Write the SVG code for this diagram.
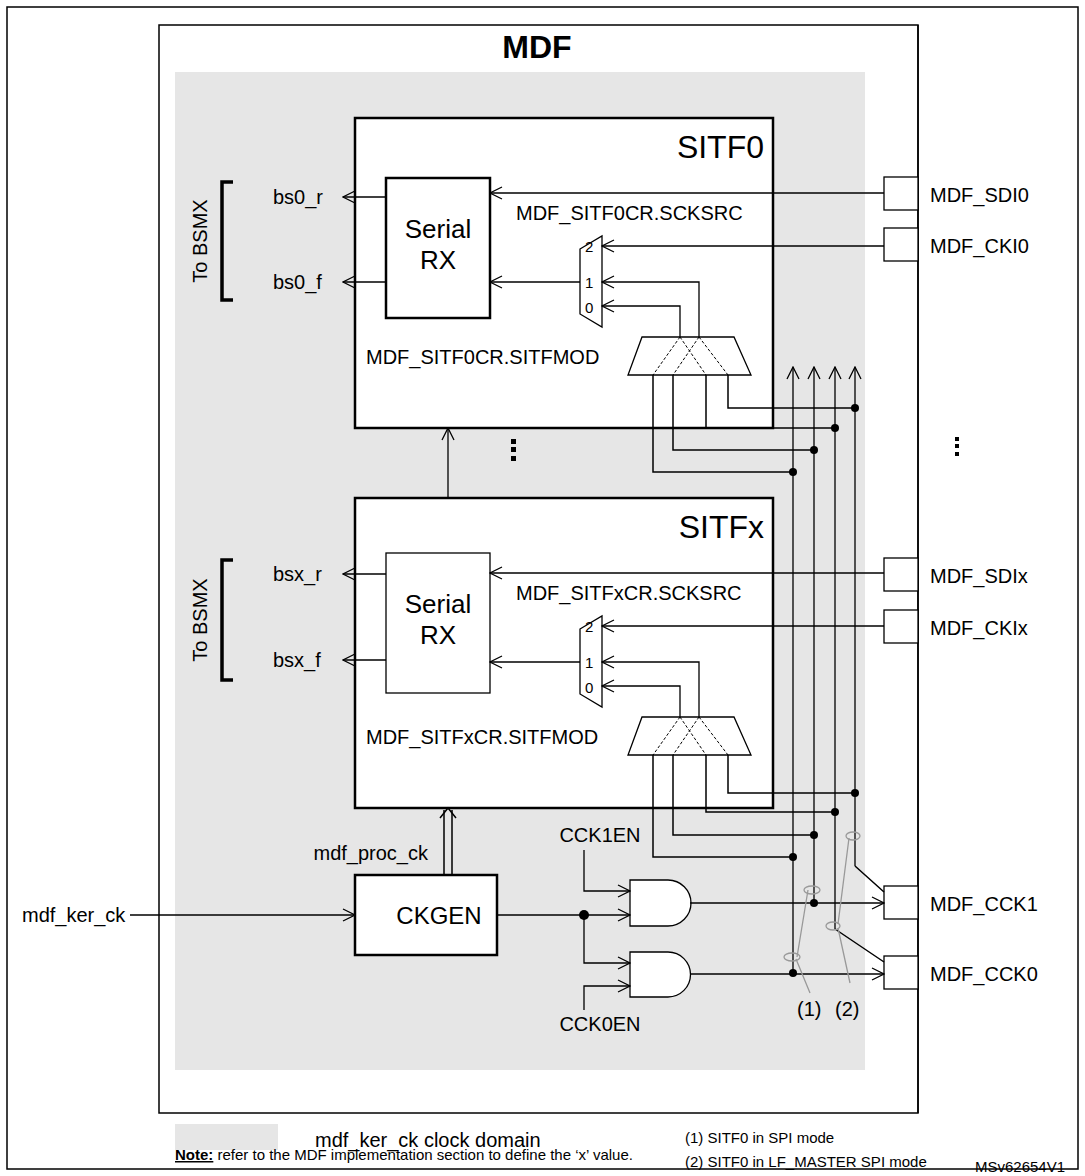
<svg xmlns="http://www.w3.org/2000/svg" width="1085" height="1176" viewBox="0 0 1085 1176">
<defs>
<marker id="a" markerWidth="14" markerHeight="14" refX="13" refY="7" orient="auto" markerUnits="userSpaceOnUse"><path d="M1,1 L13,7 L1,13" fill="none" stroke="#000" stroke-width="1.3"/></marker>
<style>
text{font-family:"Liberation Sans",Arial,sans-serif;fill:#000}
.l{font-size:20px}.s{font-size:15px}.t{font-size:32px}.f{font-size:15px}
.w{fill:none;stroke:#000;stroke-width:1.5}
.b{fill:#fff;stroke:#000;stroke-width:2.5}
.p{fill:#fff;stroke:#000;stroke-width:1.3}
.ar{fill:none;stroke:#000;stroke-width:1.3;marker-end:url(#a)}
.d{fill:none;stroke:#000;stroke-width:1;stroke-dasharray:3,2}
.g{fill:none;stroke:#999;stroke-width:1.3}
</style>
</defs>
<rect x="7" y="7" width="1071" height="1162" fill="#fff" stroke="#000" stroke-width="1.5"/>
<g id="mdf">
<rect x="159" y="25" width="759" height="1088" fill="#fff" stroke="#000" stroke-width="1.5"/>
<rect x="175" y="72" width="690" height="998" fill="#e6e6e6"/>
<text x="537" y="58" font-size="32" font-weight="bold" text-anchor="middle">MDF</text>
</g>
<g id="sitf0">
<rect x="355" y="118" width="418" height="310" class="b"/>
<text x="764" y="158" class="t" text-anchor="end">SITF0</text>
<rect x="386" y="178" width="104" height="140" class="b"/>
<text x="438" y="238" font-size="26" text-anchor="middle">Serial</text>
<text x="438" y="269" font-size="26" text-anchor="middle">RX</text>
<text x="516" y="220" class="l">MDF_SITF0CR.SCKSRC</text>
<path d="M580,249 L602,236 L602,327 L580,314 Z" class="p"/>
<text x="585" y="252" class="s">2</text><text x="585" y="288" class="s">1</text><text x="585" y="313" class="s">0</text>
<text x="366" y="364" class="l">MDF_SITF0CR.SITFMOD</text>
<path d="M642,337 L734,337 L751,375 L628,375 Z" class="p"/>
<path d="M680,337 L653,375 M699,337 L673,375 M680,337 L706,375 M699,337 L728,375" class="d"/>
</g>
<g id="sitfx">
<rect x="355" y="498" width="418" height="310" class="b"/>
<text x="764" y="538" class="t" text-anchor="end">SITFx</text>
<rect x="386" y="553" width="104" height="140" class="p"/>
<text x="438" y="613" font-size="26" text-anchor="middle">Serial</text>
<text x="438" y="644" font-size="26" text-anchor="middle">RX</text>
<text x="516" y="600" class="l">MDF_SITFxCR.SCKSRC</text>
<path d="M580,629 L602,616 L602,707 L580,694 Z" class="p"/>
<text x="585" y="632" class="s">2</text><text x="585" y="668" class="s">1</text><text x="585" y="693" class="s">0</text>
<text x="366" y="744" class="l">MDF_SITFxCR.SITFMOD</text>
<path d="M642,717 L734,717 L751,755 L628,755 Z" class="p"/>
<path d="M680,717 L653,755 M699,717 L673,755 M680,717 L706,755 M699,717 L728,755" class="d"/>
</g>
<g id="ckgen">
<rect x="355" y="875" width="142" height="80" class="b"/>
<text x="439" y="924" font-size="24" text-anchor="middle">CKGEN</text>
<text x="428" y="860" class="l" text-anchor="end">mdf_proc_ck</text>
</g>
<g id="gates">
<path d="M630,880 L668,880 A23,23 0 0 1 668,926 L630,926 Z" class="p"/>
<path d="M630,952 L668,952 A22.5,22.5 0 0 1 668,997 L630,997 Z" class="p"/>
<text x="600" y="842" class="l" text-anchor="middle">CCK1EN</text>
<text x="600" y="1031" class="l" text-anchor="middle">CCK0EN</text>
</g>
<g id="pins">
<line x1="918" y1="25" x2="918" y2="1113" stroke="#000" stroke-width="1.5"/>
<rect x="884" y="177" width="34" height="33" class="p"/>
<rect x="884" y="228" width="34" height="33" class="p"/>
<rect x="884" y="558" width="34" height="33" class="p"/>
<rect x="884" y="610" width="34" height="33" class="p"/>
<rect x="884" y="886" width="34" height="33" class="p"/>
<rect x="884" y="956" width="34" height="33" class="p"/>
<text x="930" y="202" class="l">MDF_SDI0</text>
<text x="930" y="253" class="l">MDF_CKI0</text>
<text x="930" y="583" class="l">MDF_SDIx</text>
<text x="930" y="635" class="l">MDF_CKIx</text>
<text x="930" y="911" class="l">MDF_CCK1</text>
<text x="930" y="981" class="l">MDF_CCK0</text>
</g>
<g id="bsmx">
<path d="M233,182 L222,182 L222,300 L233,300" fill="none" stroke="#000" stroke-width="3.5"/>
<path d="M233,560 L222,560 L222,680 L233,680" fill="none" stroke="#000" stroke-width="3.5"/>
<text transform="translate(207,241) rotate(-90)" class="l" text-anchor="middle">To BSMX</text>
<text transform="translate(207,620) rotate(-90)" class="l" text-anchor="middle">To BSMX</text>
<text x="273" y="204" class="l">bs0_r</text>
<text x="273" y="289" class="l">bs0_f</text>
<text x="273" y="581" class="l">bsx_r</text>
<text x="273" y="667" class="l">bsx_f</text>
</g>
<g id="connectors">
<path d="M386,197 L343,197" class="ar"/><path d="M386,282 L343,282" class="ar"/>
<path d="M386,574 L343,574" class="ar"/><path d="M386,660 L343,660" class="ar"/>
<path d="M884,193 L490,193" class="ar"/><path d="M884,246 L602,246" class="ar"/>
<path d="M580,282 L490,282" class="ar"/><path d="M699,337 L699,282 L602,282" class="ar"/>
<path d="M680,337 L680,306 L602,306" class="ar"/>
<path d="M884,573 L490,573" class="ar"/><path d="M884,626 L602,626" class="ar"/>
<path d="M580,662 L490,662" class="ar"/><path d="M699,717 L699,662 L602,662" class="ar"/>
<path d="M680,717 L680,686 L602,686" class="ar"/>
<path d="M653,375 L653,472 L793,472 M673,375 L673,450 L814,450 M706,375 L706,428 L835,428 M728,375 L728,408 L855,408" class="w"/>
<path d="M653,755 L653,857 L793,857 M673,755 L673,835 L814,835 M706,755 L706,812 L835,812 M728,755 L728,793 L855,793" class="w"/>
<path d="M793,973 L793,367" class="ar"/><path d="M814,903 L814,367" class="ar"/>
<path d="M835,929 L835,367" class="ar"/><path d="M855,866 L855,367" class="ar"/>
<path d="M855,866 L884,892 M835,929 L884,962" class="w"/>
<g fill="#000">
<circle cx="793" cy="472" r="4"/><circle cx="814" cy="450" r="4"/><circle cx="835" cy="428" r="4"/><circle cx="855" cy="408" r="4"/>
<circle cx="793" cy="857" r="4"/><circle cx="814" cy="835" r="4"/><circle cx="835" cy="812" r="4"/><circle cx="855" cy="793" r="4"/>
<circle cx="814" cy="903" r="4"/><circle cx="793" cy="973" r="4"/><circle cx="584" cy="915" r="5"/>
</g>
<path d="M448,498 L448,428" class="ar"/>
<path d="M444,875 L444,810 M452,875 L452,810" class="w"/>
<path d="M440,818 L448,808 L456,818" class="w"/>
<path d="M130,915 L355,915" class="ar"/>
<path d="M497,915 L584,915" class="w"/>
<path d="M584,915 L630,915" class="ar"/><path d="M584,915 L584,963 L630,963" class="ar"/>
<path d="M584,850 L584,891 L630,891" class="ar"/><path d="M584,1010 L584,986 L630,986" class="ar"/>
<path d="M690,903 L884,903" class="ar"/><path d="M690,974 L884,974" class="ar"/>
<ellipse cx="812" cy="890" rx="8" ry="4" class="g"/>
<ellipse cx="792" cy="957" rx="8" ry="4" class="g"/>
<ellipse cx="853" cy="836" rx="7" ry="4" class="g"/>
<ellipse cx="833" cy="926" rx="7" ry="4" class="g"/>
<path d="M808,890 L797,957 M796,959 L810,993 M849,838 L838,924 M838,928 L850,983" class="g"/>
</g>
<text x="797" y="1016" class="l">(1)</text>
<text x="835" y="1016" class="l">(2)</text>
<text x="22" y="922" class="l">mdf_ker_ck</text>
<g fill="#000"><rect x="511" y="439" width="5" height="5"/><rect x="511" y="447" width="5" height="5"/><rect x="511" y="456" width="5" height="5"/>
<rect x="955" y="437" width="4" height="4"/><rect x="955" y="444" width="4" height="4"/><rect x="955" y="452" width="4" height="4"/></g>
<rect x="175" y="1124" width="103" height="26" fill="#e6e6e6"/>
<text x="315" y="1147" class="l">mdf_ker_ck clock domain</text>
<text x="685" y="1143" class="f">(1) SITF0 in SPI mode</text>
<text x="685" y="1167" class="f">(2) SITF0 in LF_MASTER SPI mode</text>
<text x="175" y="1160" class="f"><tspan font-weight="bold" text-decoration="underline">Note:</tspan> refer to the MDF implementation section to define the ‘x’ value.</text>
<text x="975" y="1172" class="f">MSv62654V1</text>
</svg>
